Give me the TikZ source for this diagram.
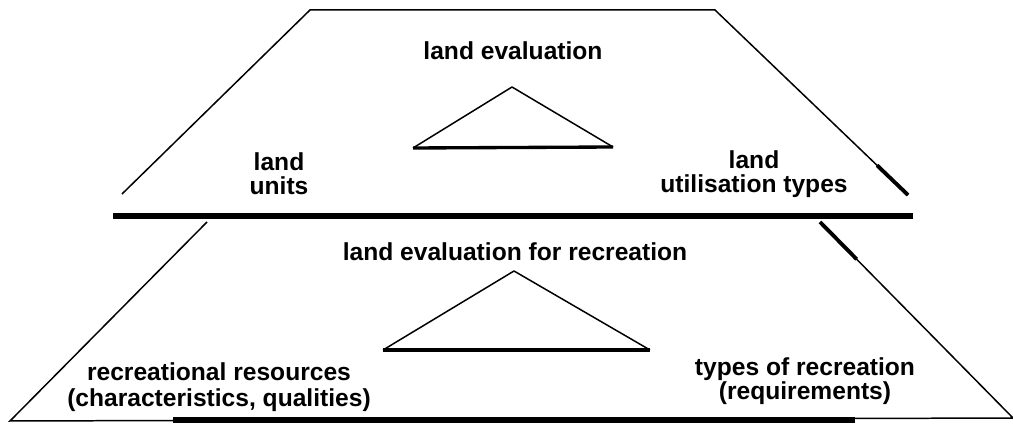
\documentclass[tikz,border=0pt]{standalone}
\usepackage{fontspec}
\setmainfont{Liberation Sans}
\usetikzlibrary{calc}
\begin{document}
\begin{tikzpicture}[x=0.02cm, y=-0.02cm,
        every node/.style={font=\fontsize{14}{13.8}\selectfont\bfseries, inner sep=0pt, align=center},
        edge/.style={line width=0.85pt},
        baseline edge/.style={line width=3.3pt},
        tri base/.style={line width=1.9pt}]
        \useasboundingbox (0,0) rectangle (1013,425);

        % Land evaluation (upper level)
        \begin{scope}
            \coordinate (ul) at (310,10);
            \coordinate (ur) at (715,10);
            \coordinate (bl) at (122,194);
            \coordinate (br) at (908,195);
            \draw[edge] (bl) -- (ul) -- (ur) -- (br);
            \draw[line width=2.2pt] ($(ur)!0.84!(br)$) -- (br);
            \draw[baseline edge] (113,216) -- (913,216);

            \node[anchor=north] (le) at (513,41) {land evaluation};
            \coordinate (ta) at (512,87);
            \coordinate (tl) at (413,148);
            \coordinate (tr) at (613,147);
            \draw[edge, line join=round] (tl) -- (ta) -- (tr);
            \draw[tri base] (tl) -- (tr);

            \node[anchor=north] (lu) at (279,152) {land\\units};
            \node[anchor=north] (lut) at (754,150) {land\\utilisation types};
        \end{scope}

        % Land evaluation for recreation (lower level)
        \begin{scope}
            \coordinate (ul) at (207,222);
            \coordinate (ur) at (820,222);
            \coordinate (bl) at (10,421);
            \coordinate (br) at (1013,418);
            \draw[edge] (ul) -- (bl) -- (br) -- (ur);
            \draw[line width=2.2pt] (ur) -- ($(ur)!0.19!(br)$);
            \draw[baseline edge] (173,420) -- (855,420);

            \node[anchor=north] (ler) at (515,242) {land evaluation for recreation};
            \coordinate (ta) at (514,271);
            \coordinate (tl) at (383,350);
            \coordinate (tr) at (650,350);
            \draw[edge, line join=round] (tl) -- (ta) -- (tr);
            \draw[tri base] (tl) -- (tr);

            \node[anchor=north, font=\fontsize{14}{15.2}\selectfont\bfseries] (rr) at (219,362) {recreational resources\\(characteristics, qualities)};
            \node[anchor=north] (tor) at (805,357) {types of recreation\\(requirements)};
        \end{scope}
    \end{tikzpicture}
\end{document}
